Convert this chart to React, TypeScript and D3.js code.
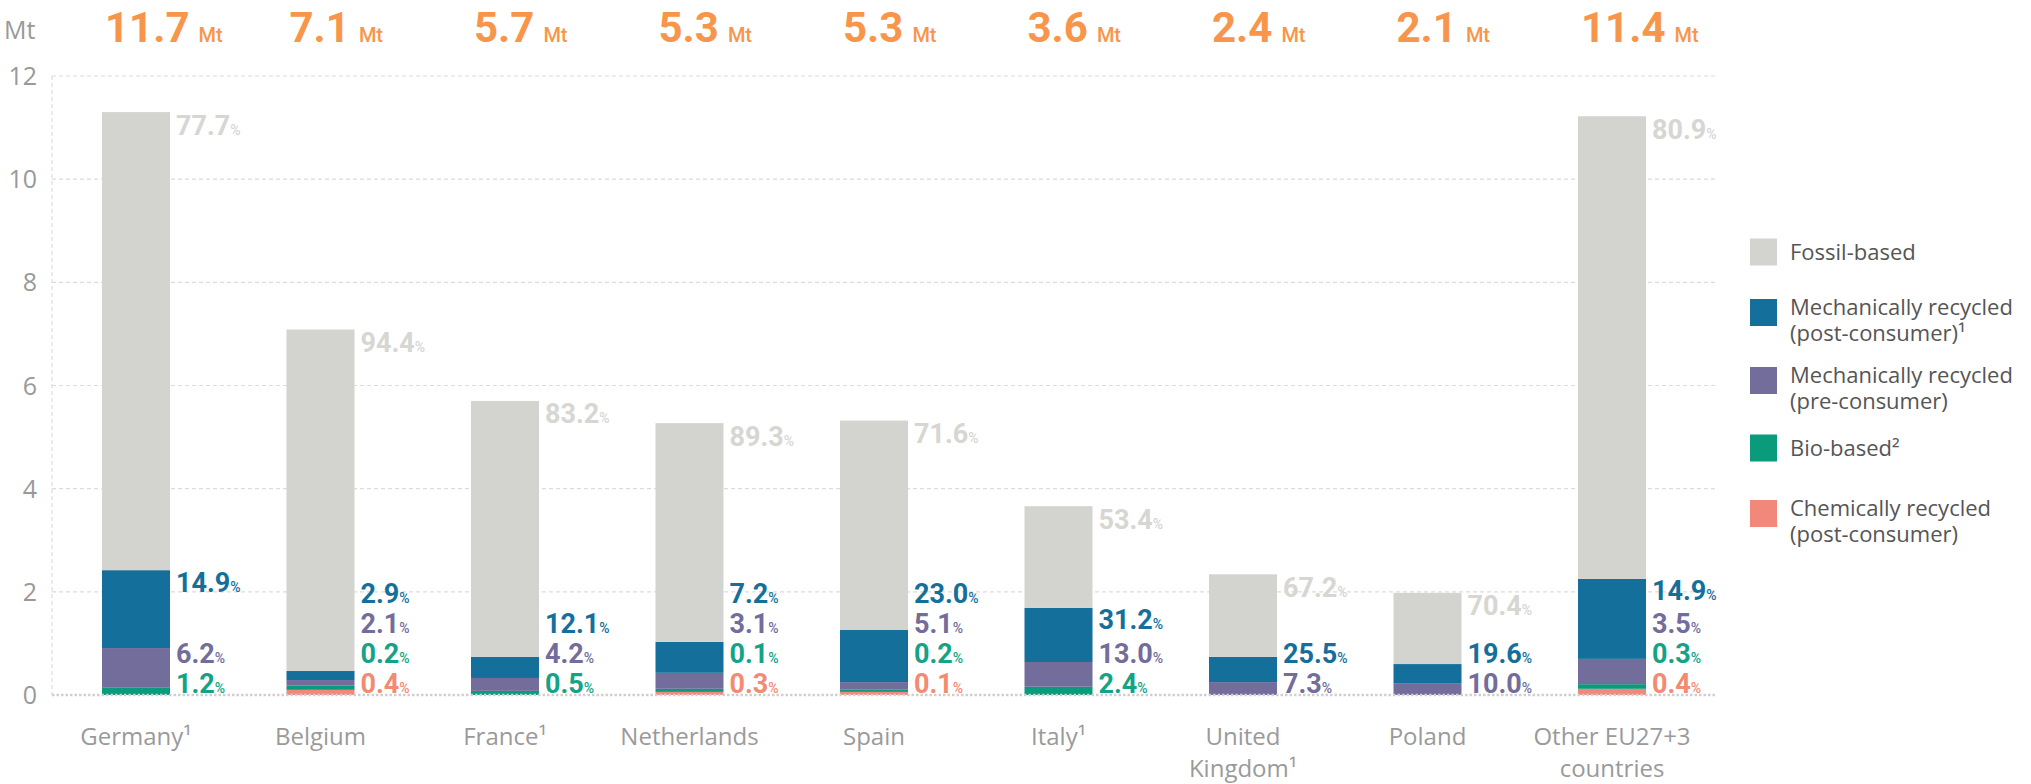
import React from 'react';
import * as d3 from 'd3';

// categories and values (Mt)
const countries = ["Germany¹", "Belgium", "France¹", "Netherlands", "Spain", "Italy¹", "United\nKingdom¹", "Poland", "Other EU27+3\ncountries"];
const totals = [11.7, 7.1, 5.7, 5.3, 5.3, 3.6, 2.4, 2.1, 11.4];

const fossil = [8.88, 6.62, 4.96, 4.24, 4.06, 1.97, 1.6, 1.38, 8.97];
const mechPost = [1.51, 0.175, 0.41, 0.6, 1.01, 1.05, 0.49, 0.37, 1.55];
const mechPre = [0.76, 0.11, 0.25, 0.31, 0.14, 0.48, 0.25, 0.23, 0.49];
const bio = [0.15, 0.08, 0.08, 0.06, 0.05, 0.16, 0, 0, 0.09];
const chem = [0, 0.1, 0, 0.06, 0.06, 0, 0, 0, 0.12];

// percentage labels (null = no label)
const pctFossil = [77.7, 94.4, 83.2, 89.3, 71.6, 53.4, 67.2, 70.4, 80.9];
const pctPost = [14.9, 2.9, 12.1, 7.2, 23.0, 31.2, 25.5, 19.6, 14.9];
const pctPre = [6.2, 2.1, 4.2, 3.1, 5.1, 13.0, 7.3, 10.0, 3.5];
const pctBio = [1.2, 0.2, 0.5, 0.1, 0.2, 2.4, null, null, 0.3];
const pctChem = [null, 0.4, null, 0.3, 0.1, null, null, null, 0.4];

const yTicks = [0, 2, 4, 6, 8, 10, 12];

const keys = ["chem", "bio", "pre", "post", "fossil"];
const colors: Record<string, string> = {
  fossil: "#d3d3cf",
  post: "#156f9b",
  pre: "#736d9c",
  bio: "#0a9a7c",
  chem: "#f2887a",
};
const labelColors: Record<string, string> = {
  fossil: "#d6d6d2",
  post: "#156f9b",
  pre: "#736d9c",
  bio: "#14a386",
  chem: "#f28b72",
};

const legendItems = [
  { key: "fossil", lines: ["Fossil-based"] },
  { key: "post", lines: ["Mechanically recycled", "(post-consumer)¹"] },
  { key: "pre", lines: ["Mechanically recycled", "(pre-consumer)"] },
  { key: "bio", lines: ["Bio-based²"] },
  { key: "chem", lines: ["Chemically recycled", "(post-consumer)"] },
];

const W = 2031, H = 784;
const textFont = "'Open Sans', sans-serif";
const numFont = "Roboto, sans-serif";

export default function App() {
  const x = d3.scalePoint<string>().domain(countries).range([136, 1612]);
  const y = d3.scaleLinear().domain([0, 12]).range([695, 76]);
  const barW = 68;
  const left = 52, right = 1716;

  const table = countries.map((c, i) => ({
    country: c,
    fossil: fossil[i], post: mechPost[i], pre: mechPre[i], bio: bio[i], chem: chem[i],
  }));
  const stacked = d3.stack<any>().keys(keys)(table);

  const pcts: Record<string, (number | null)[]> = {
    chem: pctChem, bio: pctBio, pre: pctPre, post: pctPost,
  };

  const pctLabel = (v: number, color: string, px: number, py: number, k: string) => (
    <text key={k} x={px} y={py + 9.5} fill={color} fontFamily={numFont} fontWeight={700} fontSize={27}>
      {v.toFixed(1)}
      <tspan fontSize={14} fontWeight={500}>%</tspan>
    </text>
  );

  return (
    <svg width={W} height={H} style={{ position: "absolute", left: 0, top: 0, background: "#fff" }}>
      {/* grid */}
      {yTicks.filter(t => t > 0).map(t => (
        <line key={t} x1={left} x2={right} y1={y(t)} y2={y(t)} stroke="#dcdcdc" strokeWidth={1.2} strokeDasharray="4 3" />
      ))}
      <line x1={left} x2={left} y1={y(12)} y2={y(0)} stroke="#dcdcdc" strokeWidth={1.2} strokeDasharray="4 3" />
      {yTicks.map(t => (
        <text key={t} x={37} y={y(t) + 9} textAnchor="end" fill="#999" fontFamily={textFont} fontSize={25}>{t}</text>
      ))}
      <text x={4} y={39} fill="#999" fontFamily={textFont} fontSize={25}>Mt</text>

      {/* bars */}
      {stacked.map(s => (
        <g key={s.key} fill={colors[s.key]}>
          {s.map((d, i) => (
            d[1] - d[0] > 0 ? (
              <rect key={i} x={(x(countries[i]) as number) - barW / 2} width={barW}
                y={y(d[1])} height={y(d[0]) - y(d[1])} />
            ) : null
          ))}
        </g>
      ))}
      <line x1={left} x2={right} y1={y(0)} y2={y(0)} stroke="#cfcfcf" strokeWidth={2.5} strokeDasharray="2.5 2" />

      {/* totals on top */}
      {countries.map((c, i) => {
        const bx = (x(c) as number) - barW / 2 + 3;
        return (
          <text key={c} x={bx} y={42} fill="#f7964b" fontFamily={numFont} fontWeight={700} fontSize={42}>
            {totals[i].toFixed(1)}
            <tspan fontSize={20} fontWeight={500} dx={9}>Mt</tspan>
          </text>
        );
      })}

      {/* percentage labels */}
      {countries.map((c, i) => {
        const lx = (x(c) as number) + barW / 2 + 6;
        const out: JSX.Element[] = [];
        let prev = y(0) - 12 + 30;
        ["chem", "bio", "pre", "post"].forEach(k => {
          const v = pcts[k][i];
          if (v == null) return;
          const seg = stacked.find(s => s.key === k)!;
          const want = y(seg[i][1]) + 12;
          const pos = Math.min(want, prev - 30);
          prev = pos;
          out.push(pctLabel(v, labelColors[k], lx, pos, c + k));
        });
        const topY = y(stacked[stacked.length - 1][i][1]) + 13;
        out.push(pctLabel(pctFossil[i], labelColors.fossil, lx, topY, c + "fossil"));
        return <g key={c}>{out}</g>;
      })}

      {/* category labels */}
      {countries.map(c => (
        <g key={c}>
          {c.split("\n").map((ln, j) => (
            <text key={j} x={x(c) as number} y={745 + j * 32} textAnchor="middle" fill="#9a9a9a"
              fontFamily={textFont} fontSize={24}>{ln}</text>
          ))}
        </g>
      ))}

      {/* legend */}
      {legendItems.map((it, i) => {
        const cy = [252, 320, 388, 448, 521][i];
        const sq = 27;
        const sy = it.lines.length === 1 ? cy - sq / 2 : cy - 21;
        return (
          <g key={it.key}>
            <rect x={1750} y={sy} width={sq} height={sq} fill={colors[it.key]} />
            {it.lines.map((ln, j) => (
              <text key={j} x={1790} y={(it.lines.length === 1 ? cy + 8 : cy - 5) + j * 26}
                fill="#555" fontFamily={textFont} fontSize={22}>{ln}</text>
            ))}
          </g>
        );
      })}
    </svg>
  );
}
